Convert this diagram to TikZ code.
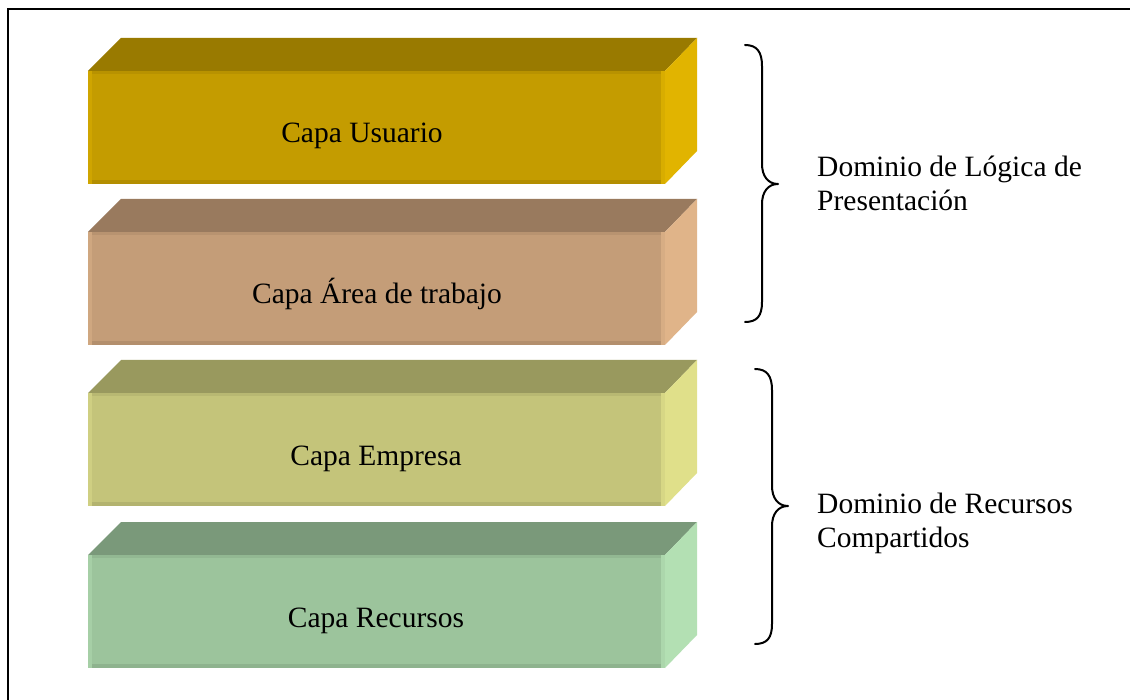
\documentclass[tikz,border=0pt]{standalone}
\usepackage{fontspec}
\setmainfont{Liberation Serif}
% colours of the four layers: front, top, side, bottom strip, left strip
\definecolor{usrF}{HTML}{C49C00}\definecolor{usrT}{HTML}{997A00}\definecolor{usrR}{HTML}{E1B400}
\definecolor{usrB}{HTML}{B38E00}\definecolor{usrL}{HTML}{CFA500}
\definecolor{wrkF}{HTML}{C49D78}\definecolor{wrkT}{HTML}{997A5E}\definecolor{wrkR}{HTML}{E0B489}
\definecolor{wrkB}{HTML}{B38F6D}\definecolor{wrkL}{HTML}{CFA780}
\definecolor{empF}{HTML}{C4C47A}\definecolor{empT}{HTML}{99995E}\definecolor{empR}{HTML}{E0E08A}
\definecolor{empB}{HTML}{B3B36F}\definecolor{empL}{HTML}{CFCF82}
\definecolor{recF}{HTML}{9CC49C}\definecolor{recT}{HTML}{7A997A}\definecolor{recR}{HTML}{B3E0B3}
\definecolor{recB}{HTML}{8EB38E}\definecolor{recL}{HTML}{A6CFA6}
\begin{document}
\begin{tikzpicture}[x=1pt,y=-1pt,
  layertext/.style={font=\fontsize{29.5}{34}\selectfont, inner sep=0pt, anchor=base},
  domtext/.style={font=\fontsize{29.5}{34}\selectfont, inner sep=0pt, anchor=west, align=left},
  brace/.style={line width=2pt, line cap=round, line join=round}]
\useasboundingbox (0,0) rectangle (1130,700);
\fill[white] (0,0) rectangle (1130,700);
% outer frame (open at right and bottom)
\draw[line width=2.2pt] (1135,9) -- (8,9) -- (8,705);

% one layer block: front face, top face, side face and edge strips
\foreach \t/\c/\nm/\tx/\lab in {71/usr/usuario/362/{Capa Usuario},
                                232/wrk/area/377/{Capa Área de trabajo},
                                393/emp/empresa/376/{Capa Empresa},
                                555/rec/recursos/376/{Capa Recursos}}{
  \fill[\c T] (88,\t) -- (121,\t-33) -- (697,\t-33) -- (665,\t) -- cycle;
  \fill[\c R] (665,\t) -- (697,\t-33) -- (697,\t+80) -- (665,\t+113) -- cycle;
  \fill[\c F] (88,\t) rectangle (665,\t+113);
  \fill[\c B] (88,\t+109) rectangle (665,\t+113);
  \fill[\c B!70!\c F] (88,\t) rectangle (665,\t+3);
  \fill[\c L] (88,\t) rectangle (92,\t+113);
  \fill[\c R!70!\c F] (661,\t) rectangle (665,\t+113);
  \node[layertext] (\nm) at (\tx,\t+72) {\lab};
}

% braces grouping the layers
\coordinate (b1top) at (745,45);
\coordinate (b1tip) at (778,184);
\coordinate (b1bot) at (745,322);
\draw[brace] (b1top) .. controls (757,45) and (762,52) .. (762,66)
  -- (762,164) .. controls (762,176) and (768,184) .. (b1tip)
  .. controls (768,184) and (762,192) .. (762,204)
  -- (762,302) .. controls (762,316) and (757,322) .. (b1bot);
\coordinate (b2top) at (755,369);
\coordinate (b2tip) at (788,506);
\coordinate (b2bot) at (755,644);
\draw[brace] (b2top) .. controls (767,369) and (772,376) .. (772,390)
  -- (772,486) .. controls (772,498) and (778,506) .. (b2tip)
  .. controls (778,506) and (772,514) .. (772,526)
  -- (772,624) .. controls (772,638) and (767,644) .. (b2bot);

\node[domtext] (dompres) at (817,183) {Dominio de Lógica de\\Presentación};
\node[domtext] (domrec) at (817,523) {Dominio de Recursos\\Compartidos};
\end{tikzpicture}
\end{document}
